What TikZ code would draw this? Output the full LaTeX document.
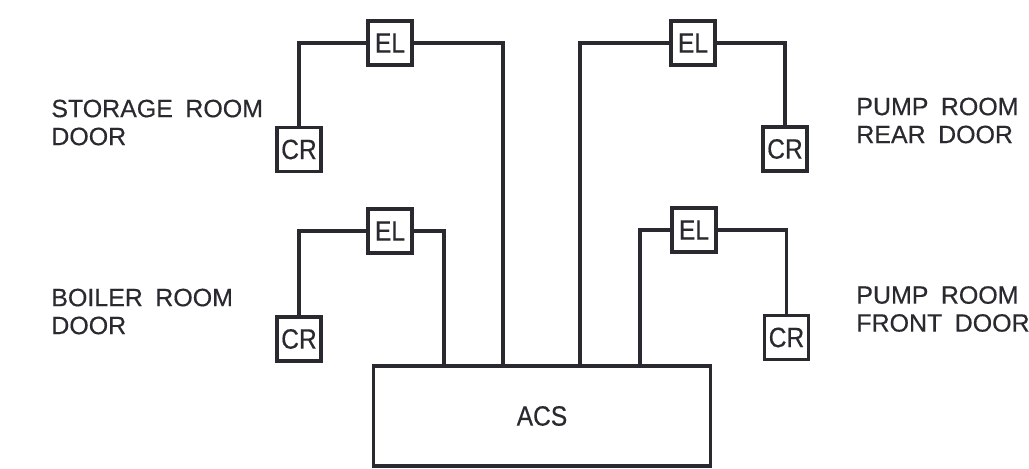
\documentclass[tikz,border=0pt]{standalone}
\usepackage{fontspec}
\setmainfont{Liberation Sans}
\newfontfamily\labelfont{Liberation Sans}[WordSpace=1.8,FakeBold=0.4]
\newfontfamily\boxfont{Liberation Sans}[FakeStretch=0.88,FakeBold=0.4]
\definecolor{ink}{rgb}{0.16,0.16,0.19}
\begin{document}
\begin{tikzpicture}[x=0.02cm,y=-0.02cm,
  wire/.style={draw=ink,line width=1.9pt},
  dev/.style={draw=ink,line width=2.1pt,minimum width=0.88cm,minimum height=0.88cm,inner sep=0pt,
    font=\boxfont\fontsize{15.9}{18}\selectfont,text=ink},
  ctrl/.style={draw=ink,line width=2.1pt,minimum width=6.74cm,minimum height=2.0cm,inner sep=0pt,
    font=\boxfont\fontsize{15.9}{18}\selectfont,text=ink},
  lbl/.style={align=left,anchor=west,inner sep=0pt,text=ink,
    font=\labelfont\fontsize{14.2}{15.9}\selectfont}]
\useasboundingbox (0,0) rectangle (1029,468);
% controller
\node[ctrl] (acs) at (542,416) {ACS\hspace{0.3cm}};
\coordinate (a1) at (444,366);
\coordinate (a2) at (503,366);
\coordinate (a3) at (580,366);
\coordinate (a4) at (640,366);
% devices
\node[dev] (el1) at (390,43) {EL};
\node[dev] (cr1) at (299,149.5) {CR};
\node[dev] (el2) at (693,43) {EL};
\node[dev] (cr2) at (785,149) {CR};
\node[dev] (el3) at (390,231) {EL};
\node[dev] (cr3) at (299,339) {CR};
\node[dev] (el4) at (694,230) {EL};
\node[dev] (cr4) at (786.5,337.5) {CR};
% wires
\draw[wire] (cr1.north) |- (el1.west);
\draw[wire] (el1.east) -| (a2);
\draw[wire] (el2.west) -| (a3);
\draw[wire] (el2.east) -| (cr2.north);
\draw[wire] (cr3.north) |- (el3.west);
\draw[wire] (el3.east) -| (a1);
\draw[wire] (el4.west) -| (a4);
\draw[wire] (el4.east) -| (cr4.north);
% labels
\node[lbl] (l1) at (51,122.5) {STORAGE ROOM\\DOOR};
\node[lbl] (l2) at (51,311.5) {BOILER ROOM\\DOOR};
\node[lbl] (l3) at (856,120.5) {PUMP ROOM\\REAR DOOR};
\node[lbl] (l4) at (856,309) {PUMP ROOM\\FRONT DOOR};
\end{tikzpicture}
\end{document}
